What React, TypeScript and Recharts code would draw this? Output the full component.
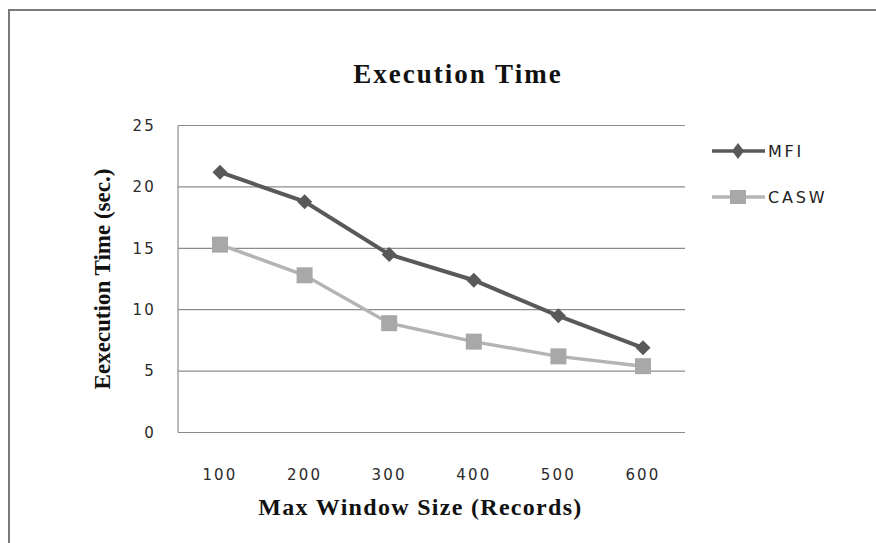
import React from 'react'
import { LineChart, Line, XAxis, YAxis, CartesianGrid, Legend } from 'recharts'

const windowSizes = ['100', '200', '300', '400', '500', '600']
const mfiTimes = [21.2, 18.8, 14.5, 12.4, 9.5, 6.9]
const caswTimes = [15.3, 12.8, 8.9, 7.4, 6.2, 5.4]
const yTicks = [0, 5, 10, 15, 20, 25]

const data = windowSizes.map((size, i) => ({
  size,
  mfi: mfiTimes[i],
  casw: caswTimes[i],
}))

const MFI_COLOR = '#595959'
const CASW_LINE = '#b4b4b4'
const CASW_FILL = '#a8a8a8'
const GRID = '#8c8c8c'

const tickStyle = {
  fill: '#2b2b2b',
  fontSize: 15,
  fontFamily: 'DejaVu Sans',
  letterSpacing: 2.2,
}

const serifBold = {
  fontFamily: 'Liberation Serif',
  fontWeight: 700,
  fill: '#111',
}

// diamond marker for MFI
const Diamond = (props: any) => {
  const { cx, cy } = props
  if (cx == null || cy == null) return null
  const r = 7.5
  return (
    <path
      d={`M${cx},${cy - r} L${cx + r},${cy} L${cx},${cy + r} L${cx - r},${cy} Z`}
      fill={MFI_COLOR}
    />
  )
}

// square marker for CASW
const Square = (props: any) => {
  const { cx, cy } = props
  if (cx == null || cy == null) return null
  const s = 8
  return <rect x={cx - s} y={cy - s} width={s * 2} height={s * 2} fill={CASW_FILL} />
}

const legendItems = [
  { name: 'MFI', color: MFI_COLOR, marker: 'diamond' },
  { name: 'CASW', color: CASW_LINE, marker: 'square' },
]

const LegendContent = () => (
  <div>
    {legendItems.map((item) => (
      <div key={item.name} style={{ display: 'flex', alignItems: 'center', height: 46 }}>
        <svg width={56} height={20}>
          <line x1={0} y1={10} x2={53} y2={10} stroke={item.color} strokeWidth={3.5} />
          {item.marker === 'diamond' ? (
            <path d="M26,2 L32,10 L26,18 L20,10 Z" fill={MFI_COLOR} />
          ) : (
            <rect x={18} y={3} width={16} height={14} fill={CASW_FILL} />
          )}
        </svg>
        <span
          style={{
            fontFamily: 'DejaVu Sans',
            fontSize: 16,
            letterSpacing: 2.8,
            color: '#222',
          }}
        >
          {item.name}
        </span>
      </div>
    ))}
  </div>
)

export default function App() {
  return (
    <div style={{ position: 'absolute', left: 0, top: 0, width: 876, height: 543, background: '#fff' }}>
      <div style={{ position: 'absolute', left: 8, top: 9, width: 868, height: 2, background: '#7a7a7a' }} />
      <div style={{ position: 'absolute', left: 8, top: 9, width: 2, height: 534, background: '#7a7a7a' }} />
      <div
        style={{
          position: 'absolute',
          left: 0,
          top: 59,
          width: 916,
          textAlign: 'center',
          fontFamily: 'Liberation Serif',
          fontWeight: 700,
          fontSize: 27,
          letterSpacing: 2,
          color: '#111',
        }}
      >
        Execution Time
      </div>
      <LineChart
        width={876}
        height={543}
        data={data}
        margin={{ top: 125.5, right: 191, bottom: 20.5, left: 98 }}
      >
        <CartesianGrid vertical={false} stroke={GRID} strokeWidth={1.2} />
        <XAxis
          dataKey="size"
          height={90}
          padding={{ left: 42, right: 42 }}
          axisLine={{ stroke: GRID, strokeWidth: 1.2 }}
          tickLine={false}
          tickSize={0}
          tickMargin={37}
          tick={tickStyle}
          label={{
            value: 'Max Window Size (Records)',
            position: 'insideBottom',
            offset: 8,
            dx: -11,
            style: { ...serifBold, fontSize: 24, letterSpacing: 1.3 },
          }}
        />
        <YAxis
          width={80}
          domain={[0, 25]}
          ticks={yTicks}
          axisLine={{ stroke: GRID, strokeWidth: 1.2 }}
          tickLine={false}
          tickSize={0}
          tickMargin={22}
          tick={tickStyle}
          label={{
            value: 'Eexecution Time (sec.)',
            angle: -90,
            position: 'insideLeft',
            offset: 4,
            style: { ...serifBold, fontSize: 23, textAnchor: 'middle' },
          }}
        />
        <Legend
          layout="vertical"
          align="center"
          verticalAlign="middle"
          content={<LegendContent />}
          wrapperStyle={{ left: 712, top: 128, width: 150 }}
        />
        <Line
          dataKey="mfi"
          name="MFI"
          stroke={MFI_COLOR}
          strokeWidth={4}
          dot={<Diamond />}
          activeDot={false}
          isAnimationActive={false}
        />
        <Line
          dataKey="casw"
          name="CASW"
          stroke={CASW_LINE}
          strokeWidth={3.5}
          dot={<Square />}
          activeDot={false}
          isAnimationActive={false}
        />
      </LineChart>
    </div>
  )
}
